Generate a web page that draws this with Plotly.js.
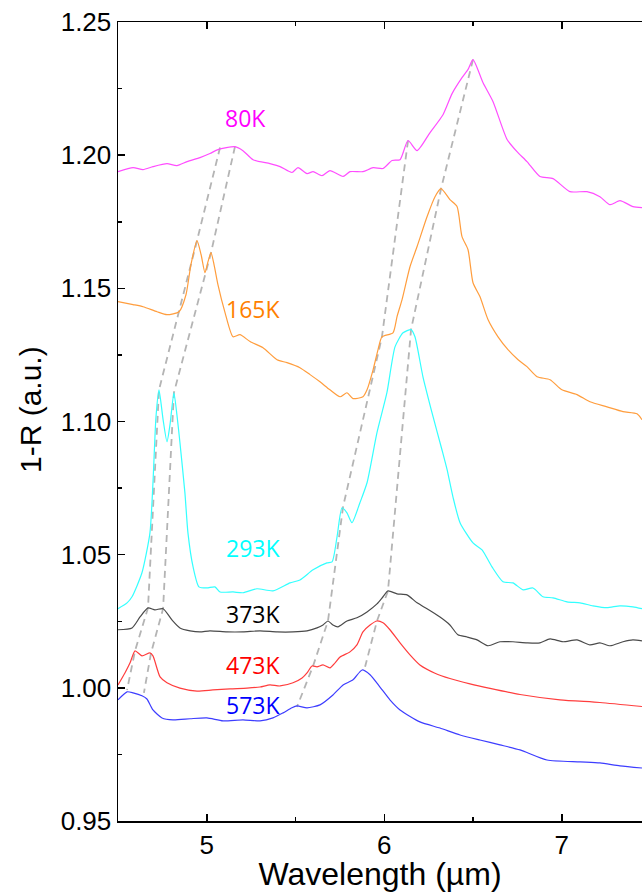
<!DOCTYPE html>
<html>
<head>
<meta charset="utf-8">
<script src="https://cdn.plot.ly/plotly-3.0.1.min.js"></script>
<style>html,body{margin:0;padding:0;background:#fff;}#chart{width:642px;height:892px;}</style>
</head>
<body>
<div id="chart"></div>
<script>
// ---- data ----
const wl80 = [4.500,4.585,4.641,4.697,4.776,4.832,4.889,4.962,5.018,5.063,5.159,5.204,5.261,5.356,5.413,5.480,5.514,5.565,5.599,5.649,5.694,5.768,5.807,5.880,5.937,5.993,6.044,6.089,6.134,6.185,6.258,6.331,6.382,6.438,6.472,6.500,6.556,6.613,6.692,6.748,6.804,6.877,6.951,7.046,7.142,7.215,7.272,7.328,7.401,7.452];
const r80 = [1.1938,1.1953,1.1946,1.1957,1.1968,1.1961,1.1976,1.1991,1.2006,1.2021,1.2032,1.2017,1.1983,1.1968,1.1957,1.1935,1.1953,1.1931,1.1938,1.1923,1.1942,1.1920,1.1938,1.1938,1.1953,1.1950,1.1980,1.1983,1.2055,1.2017,1.2085,1.2152,1.2231,1.2291,1.2322,1.2359,1.2273,1.2201,1.2059,1.2013,1.1976,1.1920,1.1912,1.1863,1.1863,1.1844,1.1814,1.1829,1.1807,1.1803];

const wl165 = [4.500,4.585,4.641,4.720,4.776,4.844,4.883,4.911,4.945,4.968,4.990,5.007,5.024,5.041,5.063,5.103,5.148,5.187,5.244,5.317,5.396,5.452,5.525,5.582,5.638,5.694,5.751,5.790,5.824,5.880,5.903,5.937,5.965,5.987,6.049,6.072,6.100,6.145,6.185,6.241,6.286,6.320,6.370,6.410,6.438,6.472,6.500,6.539,6.585,6.641,6.697,6.754,6.804,6.861,6.934,7.001,7.086,7.159,7.255,7.345,7.424,7.452];
const r165 = [1.1450,1.1439,1.1431,1.1412,1.1401,1.1412,1.1476,1.1589,1.1679,1.1627,1.1559,1.1600,1.1634,1.1589,1.1514,1.1409,1.1318,1.1326,1.1300,1.1277,1.1232,1.1221,1.1202,1.1176,1.1149,1.1119,1.1093,1.1108,1.1086,1.1093,1.1119,1.1194,1.1270,1.1318,1.1333,1.1394,1.1457,1.1581,1.1657,1.1769,1.1844,1.1874,1.1833,1.1807,1.1694,1.1645,1.1521,1.1469,1.1382,1.1318,1.1270,1.1232,1.1206,1.1168,1.1157,1.1119,1.1101,1.1074,1.1055,1.1037,1.1029,1.1007];

const wl293 = [4.500,4.551,4.579,4.635,4.680,4.697,4.714,4.731,4.754,4.776,4.793,4.815,4.832,4.849,4.877,4.894,4.923,4.956,5.001,5.046,5.075,5.148,5.204,5.283,5.373,5.469,5.525,5.599,5.677,5.706,5.734,5.762,5.790,5.818,5.863,5.903,5.959,6.015,6.061,6.106,6.151,6.173,6.218,6.275,6.325,6.354,6.387,6.427,6.500,6.551,6.607,6.669,6.725,6.782,6.838,6.894,6.951,7.030,7.103,7.176,7.255,7.328,7.401,7.452];
const r293 = [1.0297,1.0319,1.0342,1.0432,1.0582,1.0770,1.1018,1.1119,1.1007,1.0924,1.0988,1.1108,1.1025,1.0920,1.0732,1.0582,1.0454,1.0379,1.0375,1.0379,1.0360,1.0360,1.0357,1.0372,1.0364,1.0394,1.0405,1.0443,1.0469,1.0473,1.0567,1.0676,1.0657,1.0620,1.0695,1.0770,1.0958,1.1108,1.1281,1.1333,1.1345,1.1318,1.1168,1.1018,1.0894,1.0819,1.0717,1.0620,1.0544,1.0518,1.0454,1.0398,1.0394,1.0368,1.0375,1.0342,1.0338,1.0323,1.0319,1.0308,1.0301,1.0308,1.0304,1.0297];

const wl373 = [4.500,4.579,4.624,4.669,4.708,4.754,4.804,4.849,4.906,4.962,5.018,5.114,5.204,5.300,5.396,5.486,5.565,5.621,5.655,5.683,5.711,5.739,5.790,5.846,5.903,5.959,5.993,6.021,6.072,6.128,6.185,6.241,6.314,6.370,6.415,6.466,6.523,6.585,6.652,6.725,6.804,6.877,6.934,7.007,7.086,7.159,7.215,7.272,7.345,7.401,7.452];
const r373 = [1.0218,1.0225,1.0266,1.0300,1.0293,1.0297,1.0255,1.0225,1.0214,1.0210,1.0214,1.0210,1.0210,1.0214,1.0210,1.0210,1.0214,1.0225,1.0236,1.0251,1.0236,1.0229,1.0251,1.0263,1.0285,1.0315,1.0342,1.0364,1.0353,1.0349,1.0319,1.0297,1.0266,1.0236,1.0199,1.0191,1.0180,1.0158,1.0173,1.0173,1.0169,1.0169,1.0184,1.0173,1.0180,1.0161,1.0169,1.0158,1.0173,1.0180,1.0176];

const wl473 = [4.500,4.539,4.568,4.596,4.635,4.680,4.697,4.737,4.776,4.849,4.945,5.035,5.131,5.227,5.300,5.356,5.413,5.486,5.537,5.565,5.593,5.621,5.655,5.694,5.723,5.751,5.807,5.846,5.880,5.920,5.959,5.993,6.032,6.089,6.145,6.201,6.286,6.370,6.483,6.596,6.765,6.990,7.215,7.452];
const r473 = [1.0011,1.0056,1.0094,1.0139,1.0120,1.0131,1.0120,1.0041,1.0019,0.9999,0.9988,0.9992,0.9996,0.9999,1.0003,1.0011,1.0007,1.0019,1.0037,1.0056,1.0082,1.0079,1.0086,1.0075,1.0094,1.0116,1.0135,1.0161,1.0210,1.0236,1.0251,1.0244,1.0218,1.0169,1.0124,1.0086,1.0055,1.0035,1.0015,0.9998,0.9975,0.9955,0.9945,0.9930];

const wl573 = [4.500,4.551,4.585,4.635,4.663,4.697,4.748,4.810,4.906,5.001,5.092,5.204,5.300,5.373,5.430,5.480,5.508,5.565,5.638,5.711,5.768,5.824,5.875,5.920,5.976,6.032,6.089,6.201,6.314,6.427,6.539,6.652,6.765,6.917,7.103,7.215,7.328,7.452];
const r573 = [0.9955,0.9985,0.9981,0.9970,0.9958,0.9917,0.9887,0.9880,0.9884,0.9887,0.9876,0.9880,0.9876,0.9887,0.9906,0.9925,0.9932,0.9925,0.9936,0.9973,1.0011,1.0030,1.0067,1.0049,1.0003,0.9955,0.9917,0.9872,0.9849,0.9823,0.9804,0.9786,0.9767,0.9729,0.9722,0.9718,0.9707,0.9699];

// peak-tracking guide lines (dashed)
const guide1x = [5.075,4.945,4.731,4.669,4.596,4.551];
const guide1y = [1.2029,1.1679,1.1119,1.0300,1.0139,0.9992];
const guide2x = [5.159,5.024,4.815,4.754,4.686,4.646];
const guide2y = [1.2032,1.1634,1.1108,1.0297,1.0131,0.9981];
const guide3x = [6.134,5.987,5.768,5.683,5.599,5.508];
const guide3y = [1.2055,1.1318,1.0680,1.0251,1.0082,0.9928];
const guide4x = [6.500,6.320,6.151,6.021,5.959,5.892];
const guide4y = [1.2359,1.1874,1.1345,1.0364,1.0251,1.0079];

const labels = ['80K','165K','293K','373K','473K','573K'];
const seriesX = [wl80, wl165, wl293, wl373, wl473, wl573];
const seriesY = [r80, r165, r293, r373, r473, r573];

// ---- styling ----
const lineColors = ['#ff4dff','#ff9d3d','#33ffff','#4a4a4a','#ff3d3d','#3d3dff'];
const textColors = ['#ff00ff','#ff7f00','#00ffff','#000000','#ff0000','#0000ff'];
const labelPos = [[5.221,1.2141],[5.261,1.1424],[5.261,1.0526],[5.261,1.0278],[5.261,1.0086],[5.261,0.9936]];

const traces = [];
[[guide1x,guide1y],[guide2x,guide2y],[guide3x,guide3y],[guide4x,guide4y]].forEach(g => {
  traces.push({x:g[0], y:g[1], type:'scatter', mode:'lines', hoverinfo:'skip',
    line:{color:'#b4b4b4', width:1.8, dash:'7px,5px'}});
});
seriesX.forEach((xs,i) => {
  traces.push({x:xs, y:seriesY[i], type:'scatter', mode:'lines', name:labels[i],
    line:{color:lineColors[i], width:1.2, shape:'spline', smoothing:0.6}});
});

const font = 'Liberation Sans, Arial, sans-serif';
const annotations = labels.map((t,i) => ({
  x: labelPos[i][0], y: labelPos[i][1], xref:'x', yref:'y', text:t, showarrow:false,
  xanchor:'center', yanchor:'middle',
  font:{family:'Open Sans, sans-serif', size:23, color:textColors[i]}
}));
// y-axis title placed as rotated text centred where the reference has it
annotations.push({
  xref:'paper', yref:'paper', x:(30-118)/524, y:(821-410)/799,
  xanchor:'center', yanchor:'middle', textangle:-90, showarrow:false,
  text:'1-R (a.u.)', font:{family:font, size:30, color:'#000'}
});

const layout = {
  width:642, height:892,
  margin:{l:118, r:0, t:22, b:71, pad:0},
  paper_bgcolor:'#fff', plot_bgcolor:'#fff',
  showlegend:false,
  font:{family:font, color:'#000'},
  xaxis:{
    range:[4.5, 7.4521], showgrid:false, zeroline:false,
    showline:true, linecolor:'#000', linewidth:1.5, mirror:'ticks',
    ticks:'inside', ticklen:7, tickwidth:1.5, tickcolor:'#000',
    tickvals:[5,6,7], ticktext:['5','6','7'],
    tickfont:{family:font, size:26, color:'#000'},
    minor:{tickvals:[4.5,5.5,6.5,7.5], ticks:'inside', ticklen:4, tickwidth:1.5, tickcolor:'#000', showgrid:false},
    title:{text:'Wavelength (µm)', font:{family:font, size:32, color:'#000'}, standoff:11}
  },
  yaxis:{
    range:[0.95,1.25], showgrid:false, zeroline:false,
    showline:true, linecolor:'#000', linewidth:1.5, mirror:false,
    ticks:'inside', ticklen:7, tickwidth:1.5, tickcolor:'#000',
    tick0:0.95, dtick:0.05, tickformat:'.2f',
    tickfont:{family:font, size:26, color:'#000'},
    minor:{dtick:0.025, tick0:0.95, ticks:'inside', ticklen:4, tickwidth:1.5, tickcolor:'#000', showgrid:false}
  },
  annotations:annotations
};

Plotly.newPlot('chart', traces, layout, {staticPlot:true, displayModeBar:false});
</script>
</body>
</html>
